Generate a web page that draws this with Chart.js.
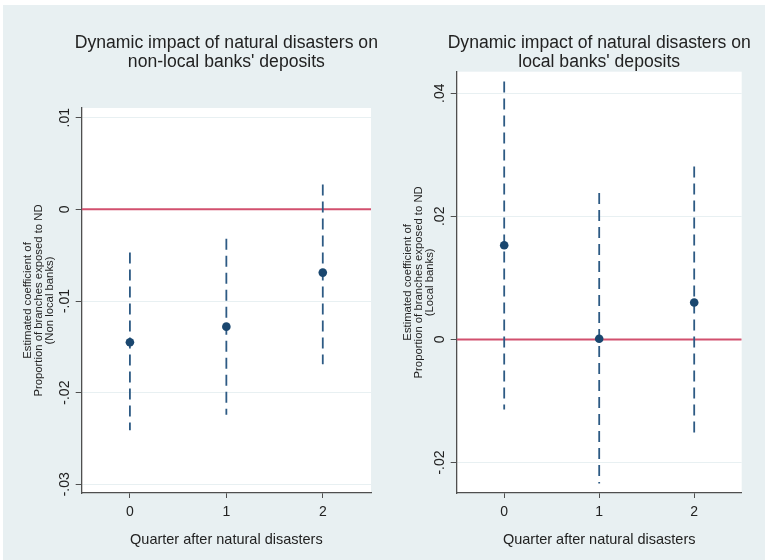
<!DOCTYPE html>
<html>
<head>
<meta charset="utf-8">
<script src="https://cdn.jsdelivr.net/npm/chart.js@4.4.1/dist/chart.umd.min.js"></script>
<style>
  html, body { margin: 0; padding: 0; background: #ffffff; }
  #bg { position: absolute; left: 3px; top: 5px; width: 762px; height: 555px; background: #e8f0f2; }
  canvas { position: absolute; top: 0; }
  #left { left: 0; }
  #right { left: 383px; }
</style>
</head>
<body>
<div id="bg"></div>
<canvas id="left" width="383" height="560"></canvas>
<canvas id="right" width="382" height="560"></canvas>
<script>
// dados
const quarters = [0, 1, 2];
const xTicks = [0, 1, 2];

const nonLocalCoef = [-0.0145, -0.0128, -0.0069];
const nonLocalLow = [-0.0241, -0.0224, -0.0169];
const nonLocalHigh = [-0.0047, -0.0032, 0.0027];
const nonLocalTicks = [-0.03, -0.02, -0.01, 0, 0.01];
const nonLocalTickLabels = ["-.03", "-.02", "-.01", "0", ".01"];

const localCoef = [0.0153, 0.0001, 0.0060];
const localLow = [-0.0114, -0.0234, -0.0160];
const localHigh = [0.0419, 0.0238, 0.0281];
const localTicks = [-0.02, 0, 0.02, 0.04];
const localTickLabels = ["-.02", "0", ".02", ".04"];

const fonte = "Arial, 'Liberation Sans', sans-serif";
const corPonto = "#1a476f";
const corIC = "#2d5a84";
const corZero = "#d2506e";
const corEixo = "#4f4f4f";
const corTexto = "#222222";

// fundo branco só na área do gráfico
const fundoPlot = {
  id: "fundoPlot",
  beforeDraw(chart) {
    const a = chart.chartArea;
    const c = chart.ctx;
    c.save();
    c.fillStyle = "#ffffff";
    c.fillRect(a.left, a.top, a.right - a.left, a.bottom - a.top);
    c.restore();
  }
};

// rótulos do eixo y girados (estilo Stata) e título centrado na área do gráfico
const textosExtras = {
  id: "textosExtras",
  afterDraw(chart) {
    const s = chart.scales.y;
    const opts = chart.options.plugins.textosExtras;
    const a = chart.chartArea;
    const c = chart.ctx;
    c.save();
    c.fillStyle = corTexto;
    c.textAlign = "center";
    c.textBaseline = "middle";

    c.font = "17.6px " + fonte;
    const cx = (a.left + a.right) / 2;
    opts.title.forEach((linha, i) => c.fillText(linha, cx, 43 + i * 19));

    c.font = "14px " + fonte;
    s.ticks.forEach((t, i) => {
      const y = s.getPixelForValue(t.value);
      c.save();
      c.translate(s.right - 16.5, y);
      c.rotate(-Math.PI / 2);
      c.fillText(opts.labels[i], 0, 0);
      c.restore();
    });
    c.restore();
  }
};

function montarGrafico(id, cfg) {
  const datasets = [
    {
      data: quarters.map((q, i) => ({ x: q, y: cfg.coef[i] })),
      pointRadius: 4.3,
      pointBackgroundColor: corPonto,
      pointBorderWidth: 0,
      showLine: false,
      order: 0
    }
  ];
  quarters.forEach((q, i) => {
    datasets.push({
      data: [{ x: q, y: cfg.high[i] }, { x: q, y: cfg.low[i] }],
      showLine: true,
      borderColor: corIC,
      borderWidth: 1.8,
      borderDash: [11, 6],
      pointRadius: 0,
      order: 1
    });
  });
  datasets.push({
    data: [{ x: -0.5, y: 0 }, { x: 2.5, y: 0 }],
    showLine: true,
    borderColor: corZero,
    borderWidth: 2,
    pointRadius: 0,
    order: 2
  });

  return new Chart(document.getElementById(id), {
    type: "scatter",
    data: { datasets },
    options: {
      responsive: false,
      animation: false,
      layout: { padding: { left: cfg.padLeft, right: cfg.padRight, top: cfg.padTop, bottom: 0 } },
      plugins: {
        legend: { display: false },
        tooltip: { enabled: false },
        title: { display: false },
        textosExtras: { labels: cfg.tickLabels, title: cfg.title }
      },
      scales: {
        x: {
          type: "linear",
          min: -0.5,
          max: 2.5,
          afterBuildTicks: s => { s.ticks = xTicks.map(v => ({ value: v })); },
          afterFit: s => { s.height = 67; },
          grid: { drawOnChartArea: false, drawTicks: true, tickLength: 5, tickColor: corEixo },
          border: { color: corEixo, width: 1.3 },
          ticks: {
            padding: 5.3,
            color: corTexto,
            font: { family: fonte, size: 14 },
            callback: v => String(v)
          },
          title: {
            display: true,
            text: "Quarter after natural disasters",
            color: corTexto,
            font: { family: fonte, size: 14.5, lineHeight: 1.2 },
            padding: { top: 0, bottom: 11.3 }
          }
        },
        y: {
          type: "linear",
          min: cfg.yMin,
          max: cfg.yMax,
          afterBuildTicks: s => { s.ticks = cfg.ticks.map(v => ({ value: v })); },
          afterFit: s => { s.width = cfg.yWidth; },
          grid: { color: "#e8f0f2", lineWidth: 1, drawTicks: true, tickLength: 6, tickColor: corEixo },
          border: { color: corEixo, width: 1.3 },
          ticks: { display: false },
          title: {
            display: true,
            text: cfg.yTitle,
            color: corTexto,
            font: { family: fonte, size: 11.3, lineHeight: 11 / 11.3 },
            padding: { top: 0, bottom: 0 }
          }
        }
      }
    },
    plugins: [fundoPlot, textosExtras]
  });
}

montarGrafico("left", {
  coef: nonLocalCoef,
  low: nonLocalLow,
  high: nonLocalHigh,
  ticks: nonLocalTicks,
  tickLabels: nonLocalTickLabels,
  yMin: -0.03095,
  yMax: 0.01106,
  title: ["Dynamic impact of natural disasters on", "non-local banks' deposits"],
  padTop: 108,
  yTitle: ["Estimated coefficient of", "Proportion of branches exposed to ND", "(Non local banks)"],
  padLeft: 22.5,
  padRight: 12,
  yWidth: 59.2
});

montarGrafico("right", {
  coef: localCoef,
  low: localLow,
  high: localHigh,
  ticks: localTicks,
  tickLabels: localTickLabels,
  yMin: -0.02496,
  yMax: 0.0435,
  title: ["Dynamic impact of natural disasters on", "local banks' deposits"],
  padTop: 71.7,
  yTitle: ["Estimated coefficient of", "Proportion of branches exposed to ND", "(Local banks)"],
  padLeft: 19.5,
  padRight: 23.3,
  yWidth: 54.2
});
</script>
</body>
</html>
